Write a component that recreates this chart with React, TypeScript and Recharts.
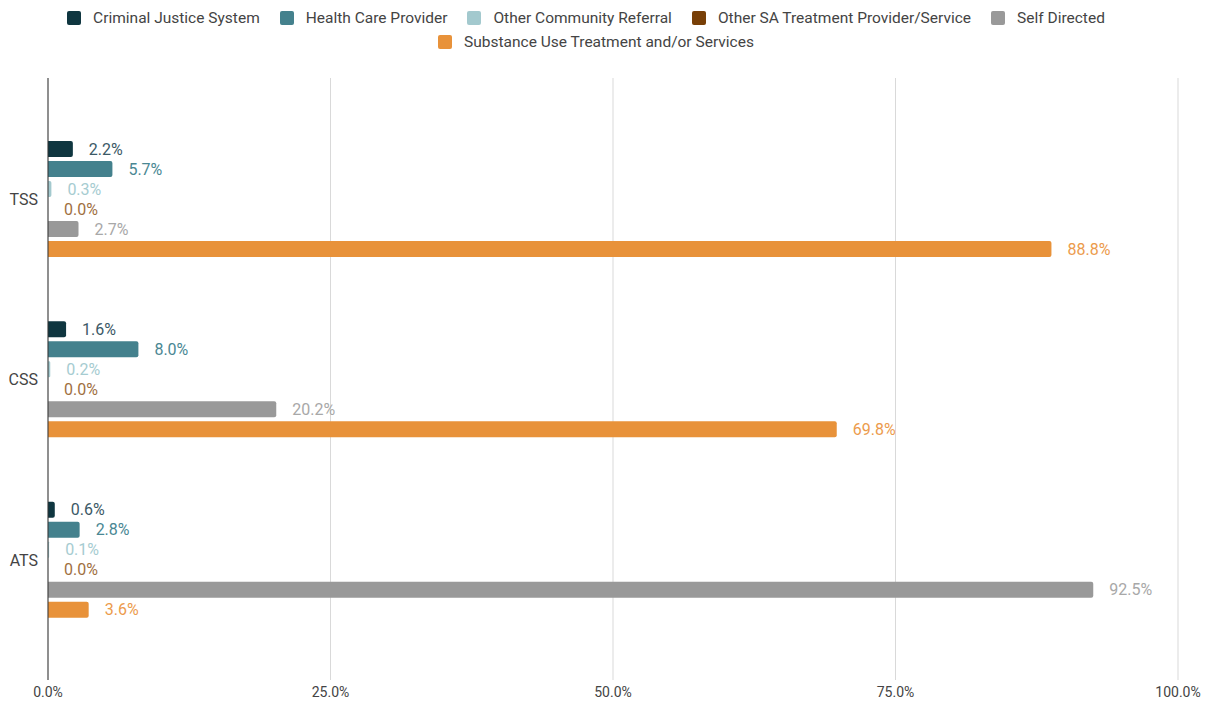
import React from 'react';
import { BarChart, Bar, XAxis, YAxis, CartesianGrid, LabelList } from 'recharts';

const categories = ['TSS', 'CSS', 'ATS'];
const seriesNames = [
  'Criminal Justice System',
  'Health Care Provider',
  'Other Community Referral',
  'Other SA Treatment Provider/Service',
  'Self Directed',
  'Substance Use Treatment and/or Services',
];
const criminalJustice = [2.2, 1.6, 0.6];
const healthCare = [5.7, 8.0, 2.8];
const otherCommunity = [0.3, 0.2, 0.1];
const otherSA = [0.0, 0.0, 0.0];
const selfDirected = [2.7, 20.2, 92.5];
const substanceUse = [88.8, 69.8, 3.6];
const xTicks = [0, 25, 50, 75, 100];

const seriesValues = [criminalJustice, healthCare, otherCommunity, otherSA, selfDirected, substanceUse];
const barColors = ['#0f3640', '#44818d', '#a3c9ce', '#783f07', '#999999', '#e8923a'];
const labelColors = ['#3b5966', '#4a8793', '#a6ccd1', '#a0703f', '#a8a8a8', '#ec9b4c'];
const keys = ['s0', 's1', 's2', 's3', 's4', 's5'];

const data = categories.map((c, i) => {
  const row: Record<string, any> = { name: c };
  seriesValues.forEach((arr, j) => {
    row[keys[j]] = arr[i];
  });
  return row;
});

const fmt = (v: any) => `${Number(v).toFixed(1)}%`;

const makeLabel = (color: string) => (props: any) => {
  const { x, y, width, height, value } = props;
  const xx = Number(x) + Number(width || 0) + 16;
  const yy = Number(y) + Number(height || 0) / 2;
  return (
    <text x={xx} y={yy} fill={color} fontSize={16} dominantBaseline="central" fontFamily="Roboto, Arial, sans-serif">
      {fmt(value)}
    </text>
  );
};

// keep zero-valued bars in the layout (invisible sliver) so their labels are drawn
const keepZero = (value: any) => (Number(value) === 0 ? 0.01 : 0);

export default function App() {
  return (
    <div style={{ position: 'absolute', left: 0, top: 0, width: 1212, height: 705, background: '#fff', fontFamily: 'Roboto, Arial, sans-serif' }}>
      <div
        style={{
          position: 'absolute',
          left: 26,
          top: 10,
          width: 1140,
          display: 'flex',
          flexWrap: 'wrap',
          justifyContent: 'center',
          rowGap: 8,
          fontSize: 15.5,
          color: '#444',
        }}
      >
        {seriesNames.map((n, i) => (
          <div key={n} style={{ display: 'flex', alignItems: 'center', marginRight: i === seriesNames.length - 1 ? 0 : 20, height: 16 }}>
            <span style={{ width: 14, height: 14, background: barColors[i], borderRadius: 2, marginRight: 12, display: 'inline-block' }} />
            <span>{n}</span>
          </div>
        ))}
      </div>
      <BarChart
        width={1212}
        height={705}
        data={data}
        layout="vertical"
        margin={{ top: 78, right: 34, bottom: 0, left: 0 }}
        barSize={16}
        barGap={4}
      >
        <CartesianGrid horizontal={false} stroke="#d9d9d9" />
        <XAxis
          type="number"
          domain={[0, 100]}
          ticks={xTicks}
          tickFormatter={fmt}
          axisLine={false}
          tickLine={false}
          tickSize={0}
          tickMargin={7}
          height={25}
          tick={{ fill: '#444', fontSize: 14 }}
        />
        <YAxis
          type="category"
          dataKey="name"
          width={48}
          axisLine={{ stroke: '#333' }}
          tickLine={false}
          tickSize={0}
          tickMargin={10}
          padding={{ top: 31, bottom: 30 }}
          tick={{ fill: '#444', fontSize: 16 }}
        />
        {keys.map((k, j) => (
          <Bar
            key={k}
            dataKey={k}
            name={seriesNames[j]}
            fill={barColors[j]}
            radius={[0, 2, 2, 0]}
            minPointSize={keepZero}
            isAnimationActive={false}
          >
            <LabelList dataKey={k} content={makeLabel(labelColors[j])} />
          </Bar>
        ))}
      </BarChart>
    </div>
  );
}
